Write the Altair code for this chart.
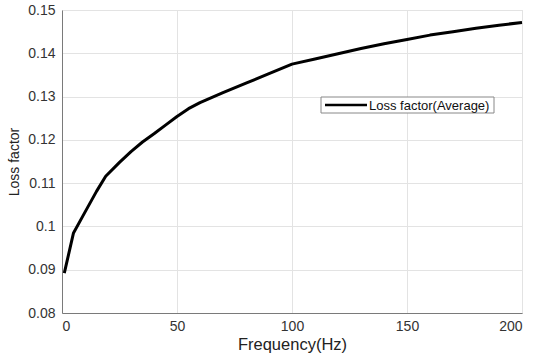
import altair as alt
import pandas as pd

freq = [1, 5, 10, 15, 19, 25, 30, 35, 40, 45, 50, 55, 60, 70, 80, 90, 100,
        110, 120, 130, 140, 150, 160, 170, 180, 190, 200]
loss = [0.0892, 0.0985, 0.1033, 0.1081, 0.1116, 0.1148, 0.1173, 0.1195, 0.1214,
        0.1234, 0.1254, 0.1272, 0.1286, 0.1309, 0.1331, 0.1353, 0.1375,
        0.1387, 0.1399, 0.1411, 0.1422, 0.1432, 0.1442, 0.1450, 0.1458, 0.1465, 0.1471]
x_ticks = [0, 50, 100, 150, 200]
y_ticks = [0.08, 0.09, 0.10, 0.11, 0.12, 0.13, 0.14, 0.15]
legend_label = "Loss factor(Average)"

df = pd.DataFrame({"f": freq, "v": loss})

FONT = "Liberation Sans"
W, H = 460, 303

line = alt.Chart(df).mark_line(color="black", strokeWidth=3, strokeJoin="round").encode(
    x=alt.X("f:Q", scale=alt.Scale(domain=[0, 200], nice=False, zero=False),
            axis=alt.Axis(values=x_ticks, title="Frequency(Hz)", grid=True,
                          gridColor="#e3e3e3", domainColor="#7a7a7a", tickColor="#7a7a7a",
                          tickSize=0, labelPadding=6, labelFontSize=14, labelColor="#333333",
                          labelFont=FONT, titleFont=FONT, titleFontSize=16.5,
                          titleFontWeight="normal", titleColor="#222222", titlePadding=3)),
    y=alt.Y("v:Q", scale=alt.Scale(domain=[0.08, 0.15], nice=False, zero=False),
            axis=alt.Axis(values=y_ticks, title="Loss factor", format=".2~f", grid=True,
                          gridColor="#e3e3e3", domainColor="#7a7a7a", tickColor="#7a7a7a",
                          tickSize=0, labelPadding=7, labelFontSize=14, labelColor="#333333",
                          labelFont=FONT, titleFont=FONT, titleFontSize=14,
                          titleFontWeight="normal", titleColor="#222222", titlePadding=6)),
)

leg_df = pd.DataFrame({"label": [legend_label]})
leg_box = alt.Chart(leg_df).mark_rect(fill="white", stroke="#888888", strokeWidth=1).encode(
    x=alt.value(259), x2=alt.value(432), y=alt.value(87), y2=alt.value(103))
leg_line = alt.Chart(leg_df).mark_rule(color="black", strokeWidth=2.5).encode(
    x=alt.value(263), x2=alt.value(305), y=alt.value(95))
leg_text = alt.Chart(leg_df).mark_text(align="left", baseline="middle", fontSize=13,
                                       font=FONT, color="#111111").encode(
    x=alt.value(307), y=alt.value(95.5), text="label:N")

chart = alt.layer(line, leg_box, leg_line, leg_text).properties(
    width=W, height=H,
    autosize=alt.AutoSizeParams(type="none"),
    padding={"left": 62, "top": 10, "right": 13, "bottom": 42},
).configure_view(stroke="#7a7a7a", strokeWidth=1).configure(background="white")

chart.save("out.html", embed_options={"renderer": "svg", "actions": False})
